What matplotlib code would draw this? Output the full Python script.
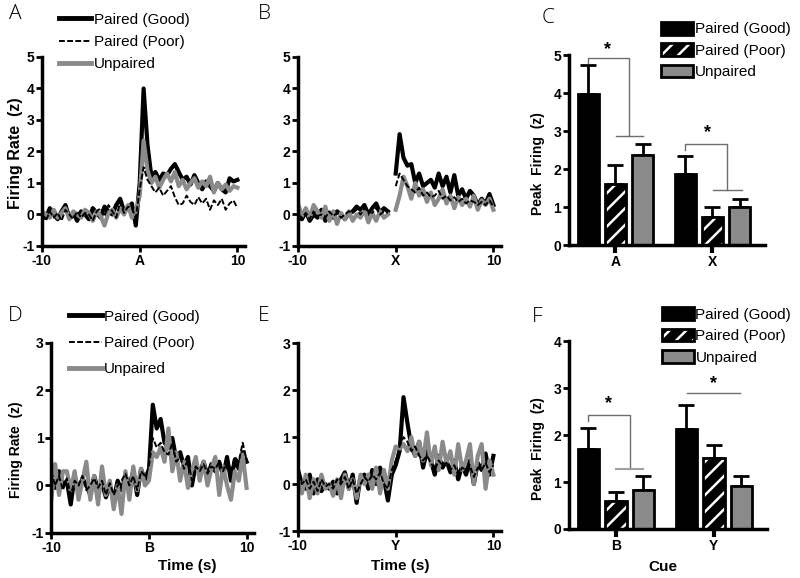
import numpy as np
import matplotlib
matplotlib.use("Agg")
import matplotlib.pyplot as plt
from matplotlib.patches import Patch
from matplotlib.legend_handler import HandlerTuple

plt.rcParams['font.family'] = ['Liberation Sans', 'DejaVu Sans']
plt.rcParams['hatch.color'] = 'white'
plt.rcParams['hatch.linewidth'] = 1.8

# ---------------- data ----------------
time = np.round(np.arange(51) * 0.4 - 10, 1)
nan = np.nan

good_A = [0.1, -0.1, 0.2, 0.0, -0.15, 0.1, 0.3, -0.1, 0.05, -0.2, 0.1, 0.0, -0.15, 0.2, 0.05,
          -0.1, 0.25, 0.1, 0.0, 0.3, 0.5, 0.1, 0.2, 0.35, -0.35,
          1.0, 4.0, 2.2, 1.2, 1.35, 1.1, 1.3, 1.25, 1.45, 1.6, 1.35, 1.1, 1.2, 0.95, 1.25, 1.0,
          0.8, 1.05, 0.9, 0.75, 1.0, 0.8, 0.7, 1.15, 1.05, 1.1]
poor_A = [0.0, -0.2, 0.1, -0.1, 0.05, -0.2, 0.15, 0.0, -0.15, 0.1, -0.1, 0.05, 0.0, -0.2, 0.1,
          0.2, -0.05, 0.3, 0.1, -0.1, 0.4, 0.05, 0.25, 0.2, -0.1,
          0.8, 1.5, 1.1, 0.9, 0.7, 0.85, 0.6, 0.75, 0.9, 0.55, 0.3, 0.35, 0.6, 0.4, 0.3,
          0.55, 0.35, 0.5, 0.15, 0.45, 0.3, 0.5, 0.15, 0.35, 0.45, 0.2]
unp_A = [0.1, 0.0, -0.1, 0.15, -0.1, 0.05, 0.2, -0.15, 0.1, 0.0, -0.1, 0.15, 0.05, -0.2, 0.1,
         -0.05, -0.35, 0.05, 0.15, -0.1, 0.2, 0.0, 0.3, -0.1, 0.1,
         0.6, 2.35, 1.4, 1.0, 1.2, 0.85, 1.1, 1.3, 1.05, 1.35, 0.9, 1.1, 0.8, 1.0, 1.15,
         0.85, 1.05, 0.9, 1.2, 0.7, 1.0, 0.8, 0.95, 0.75, 0.9, 0.85]

good_X = [-0.05, -0.15, 0.1, -0.2, 0.0, -0.1, 0.15, -0.2, 0.05, -0.1, 0.1, 0.0, -0.15, 0.05, 0.1,
          0.25, 0.15, 0.3, 0.0, 0.2, 0.35, 0.05, 0.2, 0.1, nan,
          1.3, 2.55, 1.8, 1.55, 1.6, 1.0, 1.3, 0.9, 1.0, 1.1, 0.85, 1.3, 0.9, 1.2, 0.7,
          1.25, 0.6, 0.8, 0.5, 0.75, 0.6, 0.3, 0.5, 0.35, 0.65, 0.3]
poor_X = [0.0, -0.1, 0.05, -0.15, 0.1, -0.05, 0.0, -0.1, 0.1, -0.05, 0.05, -0.1, 0.0, 0.1, 0.05,
          0.15, 0.0, 0.2, 0.1, 0.05, 0.2, 0.0, 0.1, 0.05, nan,
          0.9, 1.3, 1.1, 0.9, 0.8, 0.7, 0.85, 0.6, 0.7, 0.55, 0.6, 0.75, 0.5, 0.6, 0.45,
          0.55, 0.4, 0.5, 0.35, 0.45, 0.4, 0.3, 0.4, 0.3, 0.45, 0.25]
unp_X = [0.35, -0.05, 0.2, -0.1, 0.3, 0.1, -0.1, 0.25, -0.2, 0.1, -0.3, 0.05, -0.15, 0.1, -0.2,
         0.0, -0.1, 0.15, -0.25, 0.05, -0.2, 0.1, -0.1, 0.0, nan,
         0.15, 0.6, 1.2, 0.9, 0.5, 1.0, 0.6, 0.8, 0.4, 0.7, 0.3, 0.5, 0.8, 0.35, 0.6,
         0.2, 0.55, 0.3, 0.5, 0.25, 0.6, 0.15, 0.45, 0.3, 0.5, 0.15]

good_B = [0.45, -0.05, 0.3, 0.0, 0.1, -0.4, 0.2, -0.1, 0.15, 0.0, -0.2, 0.2, -0.1, 0.05, -0.25,
          0.0, -0.3, 0.1, -0.1, 0.2, 0.0, 0.3, -0.2, 0.35, 0.1,
          0.3, 1.7, 1.2, 1.4, 0.9, 0.8, 1.0, 0.55, 0.7, 0.4, 0.6, 0.0, 0.45, 0.25, 0.5,
          0.2, 0.45, 0.3, 0.5, 0.2, 0.6, 0.1, 0.55, 0.35, 0.7, 0.5]
poor_B = [0.3, 0.0, 0.2, -0.1, 0.15, -0.2, 0.1, 0.0, 0.2, -0.1, 0.0, 0.15, -0.05, 0.1, -0.2,
          0.05, -0.2, 0.0, 0.1, 0.25, 0.0, 0.2, -0.1, 0.3, 0.2,
          0.4, 1.0, 0.8, 0.9, 0.7, 0.65, 0.9, 0.5, 0.6, 0.35, 0.55, 0.1, 0.4, 0.3, 0.45,
          0.25, 0.4, 0.35, 0.5, 0.3, 0.55, 0.3, 0.6, 0.5, 0.9, 0.55]
unp_B = [-0.3, 0.45, -0.2, 0.3, 0.3, -0.1, 0.3, -0.3, 0.1, 0.5, -0.3, 0.2, -0.4, 0.4, -0.2,
         0.1, -0.5, 0.0, -0.6, 0.3, -0.3, 0.4, -0.1, 0.35, 0.0,
         0.1, 0.7, 0.6, 0.8, 0.5, 1.2, 0.3, 0.7, 0.1, 0.5, -0.05, 0.3, 0.6, 0.1, 0.5,
         0.0, 0.35, 0.6, -0.2, 0.4, 0.0, -0.3, 0.3, 0.1, 0.65, -0.05]

good_Y = [0.3, 0.0, -0.1, 0.2, -0.2, 0.1, -0.15, 0.0, -0.1, 0.05, -0.2, 0.1, 0.25, -0.1, 0.2,
          -0.4, 0.15, 0.2, -0.1, 0.3, 0.0, 0.35, 0.1, -0.35, 0.2,
          0.4, 0.7, 1.85, 1.3, 0.8, 0.6, 0.9, 0.35, 0.7, 0.5, 0.2, 0.6, 0.35, 0.5, 0.25,
          0.5, 0.1, 0.4, 0.2, 0.5, 0.0, 0.45, 0.3, 0.65, 0.2, 0.6]
poor_Y = [0.2, 0.0, 0.1, -0.1, 0.05, -0.15, 0.1, -0.05, 0.0, -0.1, 0.1, 0.0, 0.15, -0.1, 0.1,
          -0.2, 0.0, 0.15, 0.05, 0.2, 0.1, 0.25, 0.0, -0.1, 0.3,
          0.5, 0.8, 1.0, 0.9, 0.7, 0.8, 0.6, 0.5, 0.6, 0.45, 0.3, 0.5, 0.4, 0.45, 0.3,
          0.4, 0.2, 0.35, 0.3, 0.4, 0.15, 0.35, 0.3, 0.45, 0.25, 0.4]
unp_Y = [0.1, -0.2, 0.2, -0.3, 0.1, -0.2, 0.2, -0.1, 0.0, -0.25, 0.1, -0.3, 0.2, -0.1, 0.1,
         -0.3, 0.2, 0.0, 0.2, -0.1, 0.35, -0.2, 0.3, -0.1, 0.5,
         0.8, 0.75, 0.85, 0.7, 1.0, 0.6, 0.9, 0.5, 1.1, 0.4, 0.8, 0.3, 0.9, 0.45, 0.7,
         0.2, 0.85, 0.3, 0.5, 0.85, 0.0, 0.6, 0.85, -0.1, 0.5, 0.2]

series_names = ['Paired (Good)', 'Paired (Poor)', 'Unpaired']
cues_top = ['A', 'X']
cues_bot = ['B', 'Y']

peak_top = {'Paired (Good)': [3.97, 1.86], 'Paired (Poor)': [1.61, 0.75], 'Unpaired': [2.37, 0.99]}
sem_top = {'Paired (Good)': [0.78, 0.49], 'Paired (Poor)': [0.49, 0.26], 'Unpaired': [0.29, 0.22]}
peak_bot = {'Paired (Good)': [1.70, 2.12], 'Paired (Poor)': [0.60, 1.51], 'Unpaired': [0.83, 0.92]}
sem_bot = {'Paired (Good)': [0.44, 0.53], 'Paired (Poor)': [0.19, 0.27], 'Unpaired': [0.29, 0.21]}

GRAY = '#8a8a8a'
DASH = (0, (3, 1.2))
fig = plt.figure(figsize=(8, 5.78), dpi=100)

def style_axes(ax):
    for s in ['top', 'right']:
        ax.spines[s].set_visible(False)
    for s in ['left', 'bottom']:
        ax.spines[s].set_linewidth(2.5)
    ax.tick_params(width=2, length=4, direction='out', labelsize=10, pad=1.5)

def ts_panel(rect, g, p, u, cue, ylim, yticks, legend=None):
    ax = fig.add_axes(rect)
    ax.plot(time, g, color='black', lw=3.0)
    ax.plot(time, u, color=GRAY, lw=3.0)
    ax.plot(time, p, color='black', lw=1.4, ls=DASH)
    ax.set_xlim(-10, 10.8)
    ax.set_ylim(*ylim)
    ax.set_xticks([-10, 0, 10])
    ax.set_xticklabels(['-10', cue, '10'], fontweight='bold')
    ax.set_yticks(yticks)
    ax.set_yticklabels([str(v) for v in yticks], fontweight='bold')
    style_axes(ax)
    if legend is not None:
        h = [plt.Line2D([], [], color='black', lw=3.5),
             plt.Line2D([], [], color='black', lw=1.4, ls=DASH),
             plt.Line2D([], [], color=GRAY, lw=3.5)]
        ax.legend(h, series_names, loc='upper left', bbox_to_anchor=legend[0],
                  frameon=False, fontsize=11, handlelength=2.1, handletextpad=0.15,
                  labelspacing=legend[1], borderpad=0, borderaxespad=0)
    return ax

axA = ts_panel([0.0525, 0.5744, 0.254, 0.327], good_A, poor_A, unp_A, 'A', (-1, 5), [-1, 0, 1, 2, 3, 4, 5],
               legend=((0.085, 1.235), 0.55))
axB = ts_panel([0.3725, 0.5744, 0.254, 0.327], good_X, poor_X, unp_X, 'X', (-1, 5), [-1, 0, 1, 2, 3, 4, 5])
axD = ts_panel([0.064, 0.0779, 0.254, 0.3287], good_B, poor_B, unp_B, 'B', (-1, 3), [-1, 0, 1, 2, 3],
               legend=((0.09, 1.175), 0.8))
axE = ts_panel([0.3725, 0.0813, 0.254, 0.325], good_Y, poor_Y, unp_Y, 'Y', (-1, 3), [-1, 0, 1, 2, 3])

offsets = [-0.28, 0.0, 0.28]
bw = 0.22

def bar_panel(rect, peaks, sems, cues, ylim, yticks, legend_anchor):
    ax = fig.add_axes(rect)
    xs = np.arange(len(cues))
    handles = []
    for off, name in zip(offsets, series_names):
        vals = np.array(peaks[name])
        errs = np.array(sems[name])
        ax.errorbar(xs + off, vals, yerr=[np.zeros_like(errs), errs], fmt='none',
                    ecolor='black', elinewidth=2, capsize=6, capthick=2, zorder=1)
        if name == 'Paired (Good)':
            ax.bar(xs + off, vals, bw, color='black', edgecolor='black', lw=2, zorder=2)
            handles.append(Patch(facecolor='black', edgecolor='black', lw=2))
        elif name == 'Paired (Poor)':
            ax.bar(xs + off, vals, bw, color='black', hatch='//', zorder=2)
            ax.bar(xs + off, vals, bw, fill=False, edgecolor='black', lw=2, zorder=3)
            handles.append((Patch(facecolor='black', hatch='//'),
                            Patch(fill=False, edgecolor='black', lw=2)))
        else:
            ax.bar(xs + off, vals, bw, color=GRAY, edgecolor='black', lw=2, zorder=2)
            handles.append(Patch(facecolor=GRAY, edgecolor='black', lw=2))
    ax.set_xlim(-0.48, 1.54)
    ax.set_ylim(*ylim)
    ax.set_xticks(xs)
    ax.set_xticklabels(cues, fontweight='bold')
    ax.set_yticks(yticks)
    ax.set_yticklabels([str(v) for v in yticks], fontweight='bold')
    style_axes(ax)
    ax.tick_params(axis='x', length=6, width=3)
    ax.legend(handles, series_names, loc='upper left', bbox_to_anchor=legend_anchor,
              frameon=False, fontsize=11, handlelength=2.1, handleheight=0.9,
              handletextpad=0.1, labelspacing=0.45, borderpad=0, borderaxespad=0,
              handler_map={tuple: HandlerTuple(ndivide=1, pad=0)})
    for sp in ['left', 'bottom']:
        ax.spines[sp].set_zorder(5)
    return ax

axC = bar_panel([0.711, 0.576, 0.245, 0.3287], peak_top, sem_top, cues_top, (0, 5),
                [0, 1, 2, 3, 4, 5], (0.47, 1.175))
axF = bar_panel([0.711, 0.0848, 0.2475, 0.325], peak_bot, sem_bot, cues_bot, (0, 4),
                [0, 1, 2, 3, 4], (0.47, 1.18))

BR = '#6e6e6e'
# significance brackets (panel C)
axC.plot([-0.28, -0.28, 0.14, 0.14], [4.78, 4.92, 4.92, 2.87], color=BR, lw=1)
axC.plot([0.01, 0.28], [2.87, 2.87], color=BR, lw=1)
axC.text(-0.08, 5.15, '*', ha='center', va='center', fontsize=13, fontweight='bold')
axC.plot([0.72, 0.72, 1.15, 1.15], [2.5, 2.66, 2.66, 1.46], color=BR, lw=1)
axC.plot([1.01, 1.3], [1.46, 1.46], color=BR, lw=1)
axC.text(0.95, 2.95, '*', ha='center', va='center', fontsize=13, fontweight='bold')
# panel F
axF.plot([-0.28, -0.28, 0.14, 0.14], [2.3, 2.42, 2.42, 1.27], color=BR, lw=1)
axF.plot([0.0, 0.28], [1.27, 1.27], color='#a0a0a0', lw=1.5)
axF.text(-0.07, 2.68, '*', ha='center', va='center', fontsize=13, fontweight='bold')
axF.plot([0.73, 1.27], [2.89, 2.89], color=BR, lw=1)
axF.text(1.0, 3.1, '*', ha='center', va='center', fontsize=13, fontweight='bold')

# axis labels
fig.text(16/800, 1 - 153/578, 'Firing Rate  (z)', rotation=90, ha='center', va='center',
         fontsize=11.5, fontweight='bold')
fig.text(16/800, 1 - 450/578, 'Firing Rate  (z)', rotation=90, ha='center', va='center',
         fontsize=10, fontweight='bold')
fig.text(538/800, 1 - 164/578, 'Peak  Firing  (z)', rotation=90, ha='center', va='center',
         fontsize=10, fontweight='bold')
fig.text(538/800, 1 - 449/578, 'Peak  Firing  (z)', rotation=90, ha='center', va='center',
         fontsize=10, fontweight='bold')
fig.text(187/800, 1 - 566/578, 'Time (s)', ha='center', va='center', fontsize=11, fontweight='bold')
fig.text(400/800, 1 - 566/578, 'Time (s)', ha='center', va='center', fontsize=11, fontweight='bold')
fig.text(663/800, 1 - 567/578, 'Cue', ha='center', va='center', fontsize=11, fontweight='bold')

# panel letters
for lbl, x, y in [('A', 15, 14), ('B', 264, 14), ('C', 548, 18),
                  ('D', 15, 316), ('E', 264, 316), ('F', 537, 317)]:
    fig.text(x/800, 1 - y/578, lbl, ha='center', va='center', fontsize=15,
             family=['Open Sans', 'DejaVu Sans'], fontweight='light')

fig.savefig('out.png', dpi=100)
